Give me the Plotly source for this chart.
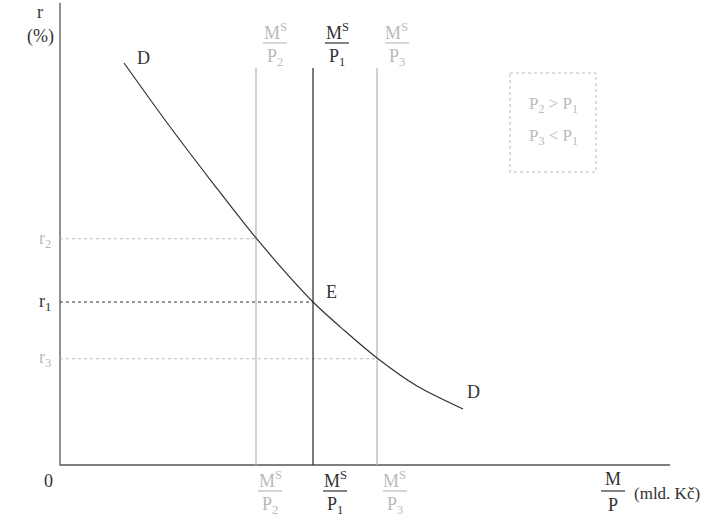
import plotly.graph_objects as go

W, H = 728, 524

# Money demand curve D (x = M/P, y = r)
demand_x = [10.49, 17.70, 24.92, 32.13, 41.48, 46.72, 51.97, 58.52, 66.07]
demand_y = [87.39, 74.13, 61.52, 49.35, 35.43, 29.13, 23.26, 17.17, 12.17]

# Real money supply levels
supply_names = ["P2", "P1", "P3"]
supply_x = [32.13, 41.48, 51.97]
supply_top = 86.3
# Equilibrium interest rates
rate_names = ["r2", "r1", "r3"]
rate_y = [49.2, 35.43, 23.1]

DARK = "#333333"
LIGHT = "#bababa"
FONT = "Liberation Serif, Times New Roman, serif"

fig = go.Figure()

# axes
fig.add_trace(go.Scatter(x=[0, 0, 100], y=[100.5, 0, 0], mode="lines",
                         line=dict(color="#555555", width=1.3), hoverinfo="skip"))

# horizontal dashed rate lines
for name, xv, yv in zip(rate_names, supply_x, rate_y):
    col = DARK if name == "r1" else LIGHT
    fig.add_trace(go.Scatter(x=[0, xv], y=[yv, yv], mode="lines",
                             line=dict(color=col, width=1, dash="dot"), hoverinfo="skip"))

# vertical supply lines
for name, xv in zip(supply_names, supply_x):
    col = DARK if name == "P1" else LIGHT
    fig.add_trace(go.Scatter(x=[xv, xv], y=[0, supply_top], mode="lines",
                             line=dict(color=col, width=1.3), hoverinfo="skip"))

# demand curve
fig.add_trace(go.Scatter(x=demand_x, y=demand_y, mode="lines",
                         line=dict(color=DARK, width=1.2, shape="spline", smoothing=0.8),
                         hoverinfo="skip"))

def px(x):
    return x / W

def py(y):
    return 1 - y / H

ann = []
shapes = []

def label(x, y, text, color=DARK, size=18):
    ann.append(dict(x=px(x), y=py(y), xref="paper", yref="paper", text=text,
                    showarrow=False, font=dict(family=FONT, size=size, color=color),
                    xanchor="center", yanchor="middle"))

def frac(cx, ytop, num, den, color):
    label(cx, ytop, num, color)
    shapes.append(dict(type="line", xref="paper", yref="paper",
                       x0=px(cx - 12), x1=px(cx + 12), y0=py(ytop + 12), y1=py(ytop + 12),
                       line=dict(color=color, width=1.2)))
    label(cx, ytop + 26, den, color)

label(40, 12, "r")
label(40, 36, "(%)")
label(48, 481, "0")
label(143, 58, "D")
label(473, 392, "D")
label(331, 292, "E")

label(45, 239, "r<sub>2</sub>", LIGHT)
label(45, 302, "r<sub>1</sub>", DARK)
label(45, 358, "r<sub>3</sub>", LIGHT)

frac(275, 31, "M<sup>S</sup>", "P<sub>2</sub>", LIGHT)
frac(337, 31, "M<sup>S</sup>", "P<sub>1</sub>", DARK)
frac(397, 31, "M<sup>S</sup>", "P<sub>3</sub>", LIGHT)

frac(270, 479, "M<sup>S</sup>", "P<sub>2</sub>", LIGHT)
frac(335, 479, "M<sup>S</sup>", "P<sub>1</sub>", DARK)
frac(395, 479, "M<sup>S</sup>", "P<sub>3</sub>", LIGHT)

frac(613, 479, "M", "P", DARK)
ann.append(dict(x=px(632), y=py(493), xref="paper", yref="paper", text="(mld. Kč)",
                showarrow=False, font=dict(family=FONT, size=17, color=DARK),
                xanchor="left", yanchor="middle"))

# info box
shapes.append(dict(type="rect", xref="paper", yref="paper",
                   x0=px(510), x1=px(596), y0=py(73), y1=py(172),
                   line=dict(color=LIGHT, width=1, dash="dot")))
label(553, 105, "P<sub>2</sub> > P<sub>1</sub>", LIGHT, 17)
label(553, 137, "P<sub>3</sub> < P<sub>1</sub>", LIGHT, 17)

fig.update_layout(
    width=W, height=H,
    margin=dict(l=0, r=0, t=0, b=0),
    paper_bgcolor="white", plot_bgcolor="white",
    showlegend=False,
    xaxis=dict(range=[-60 / 6.1, (W - 60) / 6.1], visible=False, fixedrange=True),
    yaxis=dict(range=[(465 - H) / 4.6, 465 / 4.6], visible=False, fixedrange=True),
    annotations=ann, shapes=shapes,
)

fig.write_html("out.html", config={"displayModeBar": False},
               post_script="document.body.style.margin='0px';")
